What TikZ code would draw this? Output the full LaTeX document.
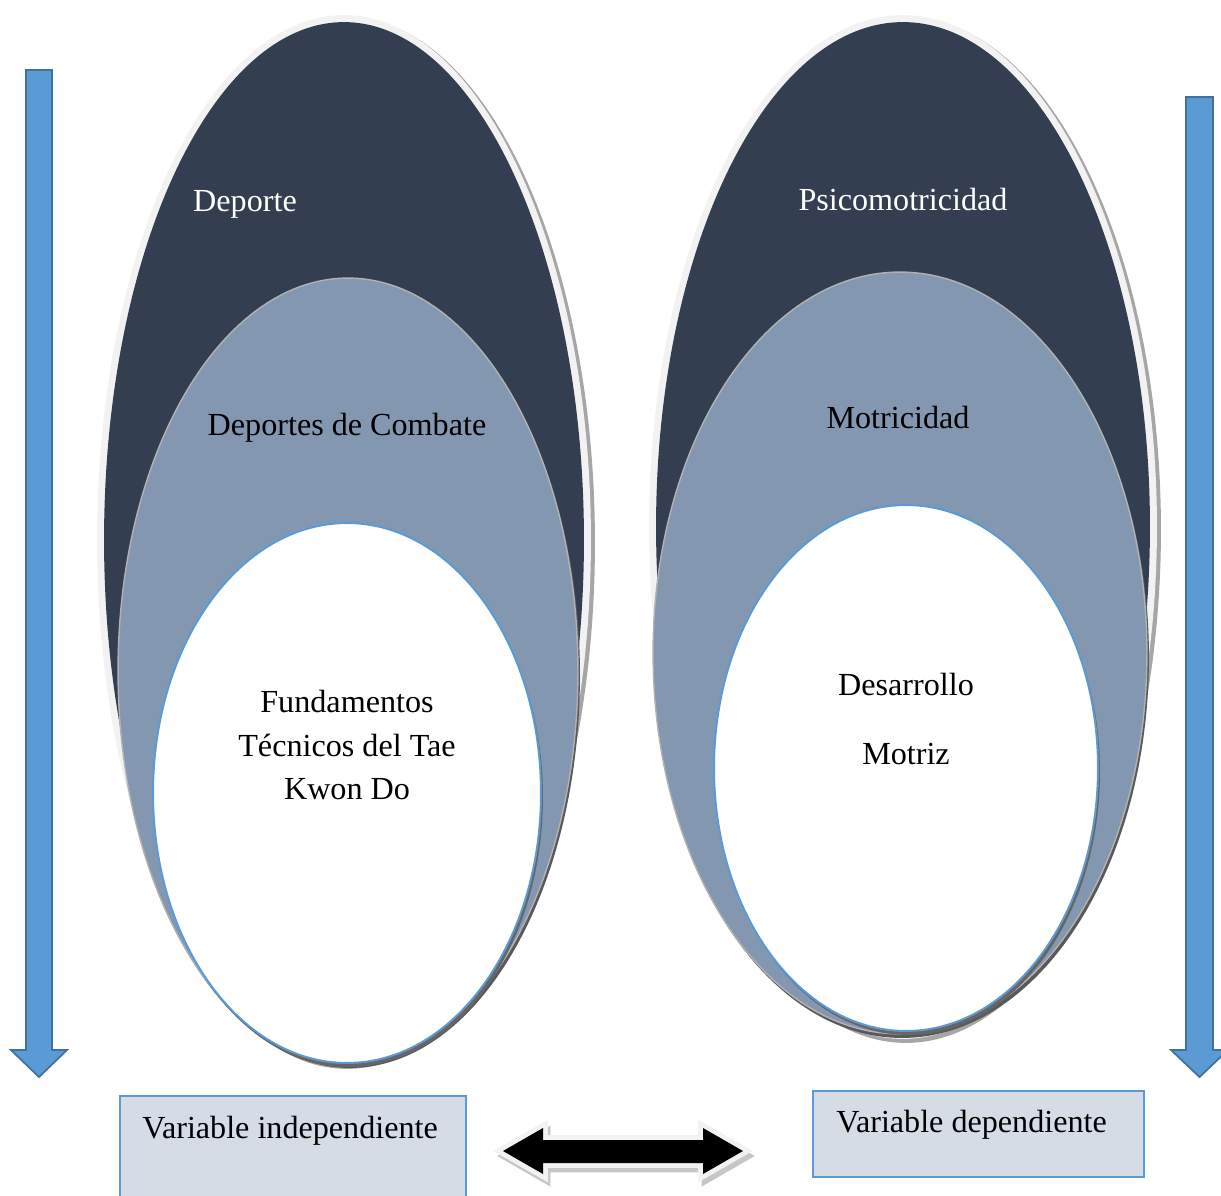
\documentclass[tikz,border=0pt]{standalone}
\usepackage{fontspec}
\setmainfont{Liberation Serif}
\definecolor{darkblue}{HTML}{333F50}
\definecolor{midblue}{HTML}{8497B0}
\definecolor{accent}{HTML}{5B9BD5}
\definecolor{accentdark}{HTML}{41719C}
\definecolor{boxfill}{HTML}{D6DCE5}
\definecolor{rim}{HTML}{F2F2F2}
\begin{document}
\begin{tikzpicture}[x=0.02cm,y=-0.02cm,
  lbl/.style={font=\fontsize{18.3}{22}\selectfont, inner sep=0pt},
  wlbl/.style={lbl, text=white},
  varbox/.style={draw=accent, line width=1.2pt, fill=boxfill},
  vdown/.style={fill=accent, draw=accentdark, line width=1pt, line join=miter}]
\useasboundingbox (0,0) rectangle (1221,1196);

% ---------- left ellipses ----------
\fill[gray!70] (347,543) ellipse [x radius=4.96cm, y radius=10.52cm];
\fill[rim] (344,540) ellipse [x radius=4.94cm, y radius=10.5cm];
\fill[darkblue] (344,540) ellipse [x radius=4.8cm, y radius=10.36cm];
\fill[black!65] (350,675) ellipse [x radius=4.6cm, y radius=7.86cm];
\filldraw[fill=midblue, draw=gray!60, line width=0.8pt] (348,671) ellipse [x radius=4.6cm, y radius=7.86cm];
\fill[black!60] (349,797) ellipse [x radius=3.88cm, y radius=5.4cm];
\filldraw[fill=white, draw=accent, line width=1.1pt] (347,793) ellipse [x radius=3.88cm, y radius=5.4cm];

% ---------- right ellipses ----------
\fill[gray!70] (906,530) ellipse [x radius=5.1cm, y radius=10.26cm];
\fill[rim] (903,527) ellipse [x radius=5.08cm, y radius=10.24cm];
\fill[darkblue] (903,527) ellipse [x radius=4.94cm, y radius=10.1cm];
\fill[black!65] (902,657) ellipse [x radius=4.94cm, y radius=7.62cm];
\filldraw[fill=midblue, draw=gray!60, line width=0.8pt] (900,653) ellipse [x radius=4.94cm, y radius=7.62cm];
\fill[black!60] (908,772) ellipse [x radius=3.84cm, y radius=5.26cm];
\filldraw[fill=white, draw=accent, line width=1.1pt] (906,768) ellipse [x radius=3.84cm, y radius=5.26cm];

% ---------- labels ----------
\node[wlbl] (deporte) at (245,204) {Deporte};
\node[lbl] (combate) at (347,428) {Deportes de Combate};
\node[lbl, align=center] (fund) at (347,745) {Fundamentos\\[3pt]Técnicos del Tae\\[3pt]Kwon Do};
\node[wlbl] (psico) at (903,200) {Psicomotricidad};
\node[lbl] (motri) at (898,418) {Motricidad};
\node[lbl] (desa) at (906,684) {Desarrollo};
\node[lbl] (motriz) at (906,754) {Motriz};

% ---------- vertical arrows ----------
\draw[vdown] (26,70) -- (52,70) -- (52,1050) -- (67,1050) -- (39,1077) -- (11,1050) -- (26,1050) -- cycle;
\draw[vdown] (1186,97) -- (1213,97) -- (1213,1050) -- (1228,1050) -- (1199.5,1077) -- (1171,1050) -- (1186,1050) -- cycle;

% ---------- boxes ----------
\draw[varbox] (120,1096) rectangle (466,1215);
\node[lbl, anchor=west] (vi) at (142,1131) {Variable independiente};
\draw[varbox] (813,1091) rectangle (1144,1177);
\node[lbl, anchor=west] (vd) at (836,1125) {Variable dependiente};

% ---------- double arrow ----------
\begin{scope}[shift={(3,5)}]
\draw[gray!45, fill=gray!45, line width=5pt, line join=miter] (503,1151) -- (543,1128) -- (543,1140) -- (703,1140) -- (703,1128) -- (743,1151) -- (703,1174) -- (703,1163) -- (543,1163) -- (543,1174) -- cycle;
\end{scope}
\draw[rim, fill=black, line width=5.5pt, line join=miter] (503,1151) -- (543,1128) -- (543,1140) -- (703,1140) -- (703,1128) -- (743,1151) -- (703,1174) -- (703,1163) -- (543,1163) -- (543,1174) -- cycle;
\fill[black] (503,1151) -- (543,1128) -- (543,1140) -- (703,1140) -- (703,1128) -- (743,1151) -- (703,1174) -- (703,1163) -- (543,1163) -- (543,1174) -- cycle;
\end{tikzpicture}
\end{document}
